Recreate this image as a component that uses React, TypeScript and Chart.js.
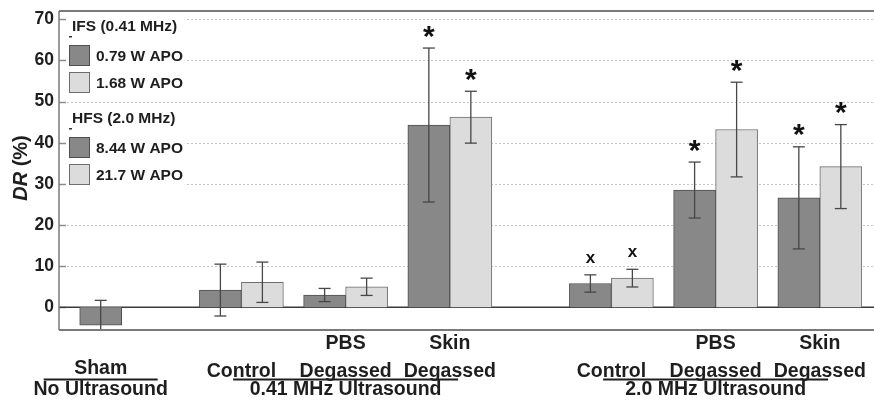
import React, { useEffect, useRef } from "react";
import { Chart, registerables } from "chart.js";

Chart.register(...registerables);

// ---- data -------------------------------------------------------------
const categories = ["Sham", "Control", "PBS Degassed", "Skin Degassed", "Control", "PBS Degassed", "Skin Degassed"];
// where each category sits on the (linear) x axis
const categoryX = [0.65, 2, 3, 4, 5.55, 6.55, 7.55];
const labelLine1 = ["", "", "PBS", "Skin", "", "PBS", "Skin"];
const labelLine2 = ["Sham", "Control", "Degassed", "Degassed", "Control", "Degassed", "Degassed"];
const groupLabels = ["No Ultrasound", "0.41 MHz Ultrasound", "2.0 MHz Ultrasound"];
const groupCenters = [0, 2, 5]; // category index each group label is centred on

const yTicks = [0, 10, 20, 30, 40, 50, 60, 70];
const legendHeadings = ["IFS (0.41 MHz)", "HFS (2.0 MHz)"];

// DR (%) mean and ± error, one entry per category (null = not measured)
const ifs079 = [-4.3, 4.2, 3.0, 44.3, null, null, null];
const ifs079Err = [6.0, 6.3, 1.6, 18.7, null, null, null];
const ifs079Sig = ["", "", "", "*", null, null, null];

const ifs168 = [null, 6.1, 5.0, 46.2, null, null, null];
const ifs168Err = [null, 4.9, 2.1, 6.3, null, null, null];
const ifs168Sig = [null, "", "", "*", null, null, null];

const hfs844 = [null, null, null, null, 5.8, 28.5, 26.6];
const hfs844Err = [null, null, null, null, 2.1, 6.8, 12.4];
const hfs844Sig = [null, null, null, null, "x", "*", "*"];

const hfs217 = [null, null, null, null, 7.1, 43.2, 34.2];
const hfs217Err = [null, null, null, null, 2.15, 11.5, 10.2];
const hfs217Sig = [null, null, null, null, "x", "*", "*"];

// ---- styling ------------------------------------------------------------
const FONT = "'Liberation Sans', Arial, Helvetica, sans-serif";
const DARK_FILL = "#888888";
const DARK_EDGE = "#4f4f4f";
const LIGHT_FILL = "#dcdcdc";
const LIGHT_EDGE = "#6e6e6e";
const TEXT = "#1e1e1e";

type Series = {
  label: string;
  values: (number | null)[];
  errs: (number | null)[];
  sig: (string | null)[];
  fill: string;
  edge: string;
};

function buildDataset(s: Series) {
  const idx = s.values.map((v, i) => (v == null ? -1 : i)).filter((i) => i >= 0);
  return {
    label: s.label,
    data: idx.map((i) => ({ x: categoryX[i], y: s.values[i] as number })),
    errors: idx.map((i) => s.errs[i] as number),
    marks: idx.map((i) => s.sig[i] || ""),
    backgroundColor: s.fill,
    borderColor: s.edge,
    borderWidth: 1,
    barThickness: 42,
    skipNull: true,
  };
}

function line(ctx: CanvasRenderingContext2D, x1: number, y1: number, x2: number, y2: number) {
  ctx.beginPath();
  ctx.moveTo(x1, y1);
  ctx.lineTo(x2, y2);
  ctx.stroke();
}

// dotted grid, inner tick marks and the zero line
const gridPlugin = {
  id: "gridLines",
  beforeDatasetsDraw(chart: any) {
    const { ctx, chartArea, scales } = chart;
    const y = scales.y;
    ctx.save();
    ctx.lineWidth = 1;
    ctx.strokeStyle = "#c4c4c4";
    ctx.setLineDash([2, 2]);
    yTicks.forEach((v) => {
      if (v === 0) return;
      const py = Math.round(y.getPixelForValue(v)) + 0.5;
      line(ctx, chartArea.left + 8, py, chartArea.right, py);
    });
    ctx.setLineDash([]);
    ctx.strokeStyle = "#8c8c8c";
    ctx.lineWidth = 1.5;
    yTicks.forEach((v) => {
      const py = Math.round(y.getPixelForValue(v)) + 0.5;
      line(ctx, chartArea.left, py, chartArea.left + 7, py);
    });
    const p0 = y.getPixelForValue(0);
    ctx.strokeStyle = "#3a3a3a";
    ctx.lineWidth = 1.5;
    line(ctx, chartArea.left, p0, chartArea.right, p0);
    ctx.restore();
  },
};

// error bars, significance marks, frame and legend
const overlayPlugin = {
  id: "overlay",
  afterDatasetsDraw(chart: any) {
    const { ctx, chartArea, scales } = chart;
    const y = scales.y;

    // error bars
    ctx.save();
    ctx.beginPath();
    ctx.rect(chartArea.left, chartArea.top, chartArea.right - chartArea.left, chartArea.bottom - chartArea.top);
    ctx.clip();
    ctx.strokeStyle = "#474747";
    ctx.lineWidth = 1.3;
    chart.data.datasets.forEach((ds: any, di: number) => {
      const meta = chart.getDatasetMeta(di);
      meta.data.forEach((el: any, j: number) => {
        const v = ds.data[j].y;
        const e = ds.errors[j];
        const top = y.getPixelForValue(v + e);
        const bot = y.getPixelForValue(v - e);
        line(ctx, el.x, top, el.x, bot);
        line(ctx, el.x - 6, top, el.x + 6, top);
        line(ctx, el.x - 6, bot, el.x + 6, bot);
      });
    });
    ctx.restore();

    // significance marks above the error bars
    ctx.save();
    ctx.fillStyle = "#111";
    ctx.textAlign = "center";
    ctx.textBaseline = "alphabetic";
    chart.data.datasets.forEach((ds: any, di: number) => {
      const meta = chart.getDatasetMeta(di);
      meta.data.forEach((el: any, j: number) => {
        const mark = ds.marks[j];
        if (!mark) return;
        const top = y.getPixelForValue(ds.data[j].y + ds.errors[j]);
        const cy = top - 16.5;
        ctx.font = mark === "*" ? `bold 30px ${FONT}` : `bold 17px ${FONT}`;
        const m = ctx.measureText(mark);
        const base = cy + (m.actualBoundingBoxAscent - m.actualBoundingBoxDescent) / 2;
        ctx.fillText(mark, el.x, base);
      });
    });
    ctx.restore();

    // frame
    ctx.save();
    ctx.strokeStyle = "#7a7a7a";
    ctx.lineWidth = 2;
    line(ctx, chartArea.left, chartArea.top, chartArea.right + 5, chartArea.top);
    line(ctx, chartArea.left, chartArea.bottom, chartArea.right + 5, chartArea.bottom);
    ctx.lineWidth = 1.5;
    line(ctx, chartArea.left, chartArea.top, chartArea.left, chartArea.bottom);
    ctx.restore();

    // legend: heading, then two swatch rows, per frequency
    ctx.save();
    const ds = chart.data.datasets;
    ctx.font = `bold 15.5px ${FONT}`;
    const widest = Math.max(
      ...legendHeadings.map((h) => 72 + ctx.measureText(h).width),
      ...ds.map((d: any) => 96 + ctx.measureText(d.label).width)
    );
    const bgLeft = chartArea.left + 8;
    const bgRight = widest + 4;
    const rows = [
      { kind: "head", text: legendHeadings[0], cy: 26 },
      { kind: "item", d: ds[0], cy: 55.5 },
      { kind: "item", d: ds[1], cy: 82.5 },
      { kind: "head", text: legendHeadings[1], cy: 118 },
      { kind: "item", d: ds[2], cy: 147.5 },
      { kind: "item", d: ds[3], cy: 174.5 },
    ];
    rows.forEach((r: any) => {
      ctx.fillStyle = "#ffffff";
      ctx.fillRect(bgLeft, r.cy - 12, bgRight - bgLeft, 24);
      ctx.fillStyle = TEXT;
      ctx.textAlign = "left";
      ctx.textBaseline = "middle";
      if (r.kind === "head") {
        ctx.fillText(r.text, 72, r.cy + 1);
        ctx.fillStyle = "#333";
        ctx.fillRect(69, r.cy + 10, 3, 1.5);
      } else {
        ctx.fillStyle = r.d.backgroundColor;
        ctx.fillRect(69.5, r.cy - 10, 20, 20);
        ctx.strokeStyle = r.d.borderColor;
        ctx.lineWidth = 1;
        ctx.strokeRect(69.5, r.cy - 10, 20, 20);
        ctx.fillStyle = TEXT;
        ctx.fillText(r.d.label, 96, r.cy + 1);
      }
    });
    ctx.restore();
  },
  afterDraw(chart: any) {
    const { ctx, scales } = chart;
    const x = scales.x;
    ctx.save();
    ctx.fillStyle = TEXT;
    ctx.textAlign = "center";
    ctx.textBaseline = "alphabetic";
    ctx.font = `bold 19.5px ${FONT}`;
    categories.forEach((_, i) => {
      const px = x.getPixelForValue(categoryX[i]);
      if (labelLine1[i]) ctx.fillText(labelLine1[i], px, 348.5);
      ctx.fillText(labelLine2[i], px, i === 0 ? 374 : 376.5);
    });
    // group captions with their rules
    const ruleHalf = [57, 112.5, 112.5];
    groupLabels.forEach((g, gi) => {
      const px = x.getPixelForValue(categoryX[groupCenters[gi]]);
      ctx.strokeStyle = "#1e1e1e";
      ctx.lineWidth = 2;
      line(ctx, px - ruleHalf[gi], 379.5, px + ruleHalf[gi], 379.5);
      ctx.fillText(g, px, 395);
    });

    // y axis title: italic "DR" followed by "(%)"
    ctx.translate(21, 168);
    ctx.rotate(-Math.PI / 2);
    ctx.textBaseline = "middle";
    ctx.textAlign = "left";
    const a = "DR";
    const b = " (%)";
    ctx.font = `italic bold 20px ${FONT}`;
    const wa = ctx.measureText(a).width;
    ctx.font = `bold 20px ${FONT}`;
    const wb = ctx.measureText(b).width;
    const start = -(wa + wb) / 2;
    ctx.font = `italic bold 20px ${FONT}`;
    ctx.fillText(a, start, 0);
    ctx.font = `bold 20px ${FONT}`;
    ctx.fillText(b, start + wa, 0);
    ctx.restore();
  },
};

export default function App() {
  const ref = useRef<HTMLCanvasElement>(null);

  useEffect(() => {
    const canvas = ref.current;
    if (!canvas) return;
    const datasets = [
      buildDataset({ label: "0.79 W APO", values: ifs079, errs: ifs079Err, sig: ifs079Sig, fill: DARK_FILL, edge: DARK_EDGE }),
      buildDataset({ label: "1.68 W APO", values: ifs168, errs: ifs168Err, sig: ifs168Sig, fill: LIGHT_FILL, edge: LIGHT_EDGE }),
      buildDataset({ label: "8.44 W APO", values: hfs844, errs: hfs844Err, sig: hfs844Sig, fill: DARK_FILL, edge: DARK_EDGE }),
      buildDataset({ label: "21.7 W APO", values: hfs217, errs: hfs217Err, sig: hfs217Sig, fill: LIGHT_FILL, edge: LIGHT_EDGE }),
    ];
    const chart = new Chart(canvas, {
      type: "bar",
      data: { datasets: datasets as any },
      options: {
        animation: false,
        responsive: false,
        devicePixelRatio: 1,
        layout: { padding: { top: 11, bottom: 70, left: 0, right: 2 } },
        plugins: { legend: { display: false }, tooltip: { enabled: false } },
        scales: {
          x: { type: "linear", min: 0.25, max: 8.3, offset: false, display: false },
          y: {
            min: -5.5,
            max: 72,
            afterBuildTicks: (s: any) => {
              s.ticks = yTicks.map((v) => ({ value: v }));
            },
            afterFit: (s: any) => {
              s.width = 59;
            },
            grid: { display: false, drawTicks: false },
            border: { display: false },
            ticks: {
              padding: 5,
              color: TEXT,
              font: { family: FONT, size: 17.5, weight: "bold", lineHeight: 0.6 },
            },
          },
        },
      } as any,
      plugins: [gridPlugin, overlayPlugin],
    });
    return () => chart.destroy();
  }, []);

  return (
    <div style={{ position: "fixed", left: 0, top: 0, width: 874, height: 400, overflow: "hidden", background: "#fff" }}>
      <canvas ref={ref} width={900} height={400} style={{ display: "block", width: 900, height: 400 }} />
    </div>
  );
}
